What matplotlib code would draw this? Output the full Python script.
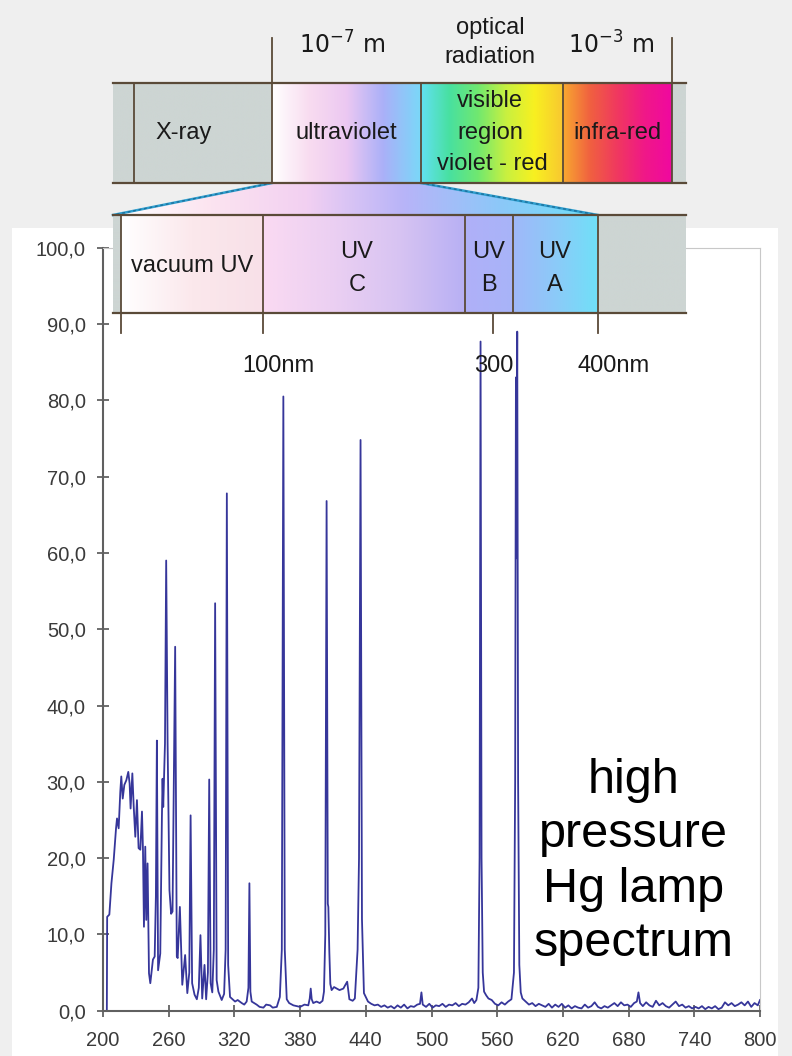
"""High pressure Hg lamp spectrum with the UV band diagram laid over it."""
import numpy as np
import matplotlib
matplotlib.use("Agg")
import matplotlib.pyplot as plt
from matplotlib.colors import LinearSegmentedColormap
from matplotlib.patches import Rectangle, Polygon

# spectrum: wavelength (nm) and relative intensity
wavelength = [
    203.5, 203.8, 205.8, 207.7, 209.8, 211.9, 212.8, 214.3, 215.8, 216.7,
    218.0, 219.5, 221.3, 223.1, 224.3, 225.2, 226.8, 228.0, 229.5, 231.0,
    232.5, 234.1, 235.6, 236.5, 237.4, 238.6, 239.5, 240.7, 242.0, 243.2,
    245.6, 247.2, 248.3, 249.2, 250.3, 252.3, 253.8, 254.4, 255.0, 256.6,
    257.7, 259.0, 260.7, 262.2, 263.5, 265.9, 267.4, 268.2, 270.2, 272.4,
    275.0, 277.0, 278.8, 280.0, 281.4, 283.6, 285.7, 287.5, 289.0, 290.6,
    292.7, 294.2, 295.8, 297.0, 298.3, 299.8, 301.2, 302.4, 303.8, 305.4,
    308.4, 310.6, 312.0, 313.1, 314.3, 316.0, 320.6, 323.0, 326.7, 329.0,
    331.2, 332.8, 333.7, 334.6, 335.8, 338.0, 340.3, 343.0, 346.5, 349.0,
    352.6, 355.0, 358.7, 361.5, 363.3, 364.7, 366.0, 367.8, 370.0, 373.9,
    377.0, 380.0, 384.0, 387.5, 388.8, 389.7, 390.6, 392.0, 395.0, 398.0,
    400.5, 401.8, 403.0, 404.2, 405.3, 405.8, 406.7, 407.6, 408.8, 411.0,
    413.4, 416.0, 419.5, 421.0, 423.0, 425.0, 428.0, 430.0, 432.5, 433.8,
    435.2, 436.5, 438.3, 442.0, 445.0, 448.0, 451.0, 454.0, 457.0, 460.0,
    463.0, 466.0, 469.0, 472.0, 475.0, 478.0, 481.0, 484.0, 487.0, 489.5,
    490.8, 492.0, 495.0, 498.0, 501.0, 504.0, 507.0, 510.0, 513.0, 516.0,
    519.0, 522.0, 525.0, 528.0, 531.0, 534.0, 537.0, 539.0, 541.0, 542.8,
    543.9, 544.8, 545.7, 546.8, 548.0, 550.0, 552.0, 555.0, 558.0, 561.0,
    564.0, 567.0, 570.0, 573.0, 575.3, 576.4, 577.1, 577.6, 578.3, 579.1,
    580.2, 581.5, 583.0, 586.0, 589.0, 592.0, 595.0, 598.0, 601.0, 604.0,
    607.0, 610.0, 613.0, 616.0, 619.0, 622.0, 625.0, 628.0, 631.0, 634.0,
    637.0, 640.0, 643.0, 646.0, 649.0, 652.0, 655.0, 658.0, 661.0, 664.0,
    667.0, 670.0, 673.0, 676.0, 679.0, 682.0, 685.0, 687.5, 689.0, 690.5,
    693.0, 696.0, 699.0, 702.0, 705.0, 708.0, 711.0, 714.0, 717.0, 720.0,
    723.0, 726.0, 729.0, 732.0, 735.0, 738.0, 741.0, 744.0, 747.0, 750.0,
    753.0, 756.0, 759.0, 762.0, 765.0, 768.0, 771.0, 774.0, 777.0, 780.0,
    783.0, 786.0, 789.0, 792.0, 795.0, 798.0, 800.0,
]
intensity = [
    0.0, 12.3, 12.6, 16.7, 19.8, 23.9, 25.2, 23.9, 28.7, 30.7,
    27.8, 29.6, 30.2, 31.3, 29.8, 26.5, 31.1, 26.9, 22.8, 27.6,
    21.3, 21.1, 26.1, 21.1, 11.0, 21.5, 11.9, 19.3, 4.9, 3.6,
    6.7, 7.1, 15.0, 35.4, 5.3, 7.5, 25.4, 30.4, 26.7, 35.0,
    59.0, 35.0, 15.8, 12.7, 13.0, 47.7, 7.1, 6.9, 13.6, 3.4,
    7.3, 2.3, 5.0, 25.6, 3.6, 2.1, 1.5, 3.0, 9.9, 1.6,
    6.0, 1.5, 5.0, 30.3, 3.6, 2.4, 8.0, 53.4, 4.0, 2.5,
    1.4, 2.2, 8.0, 67.8, 6.0, 1.8, 1.2, 1.4, 1.0, 0.8,
    1.2, 3.0, 16.7, 2.5, 1.2, 1.0, 0.8, 0.5, 0.4, 0.8,
    0.7, 0.4, 0.5, 1.8, 8.0, 80.5, 8.0, 1.5, 1.0, 0.7,
    0.6, 0.5, 0.8, 0.7, 1.6, 2.9, 1.5, 1.0, 1.2, 1.0,
    1.3, 2.5, 10.0, 66.8, 14.0, 13.6, 7.7, 3.5, 2.7, 3.1,
    2.9, 2.7, 2.9, 3.3, 3.8, 1.5, 1.3, 1.6, 8.0, 20.0,
    74.8, 12.0, 2.3, 1.2, 0.9, 0.7, 0.8, 0.5, 0.7, 0.4,
    0.6, 0.3, 0.7, 0.4, 0.8, 0.3, 0.6, 0.5, 0.8, 0.9,
    2.4, 0.8, 0.5, 0.9, 0.4, 0.7, 0.6, 0.9, 0.5, 0.8,
    0.7, 1.0, 0.6, 0.9, 0.8, 1.1, 1.6, 1.0, 1.4, 3.0,
    20.0, 87.7, 20.0, 5.0, 2.5, 2.0, 1.6, 1.4, 0.9, 0.7,
    1.1, 0.8, 1.2, 1.5, 5.0, 30.0, 83.0, 59.3, 89.0, 30.0,
    6.0, 2.4, 1.6, 1.2, 0.8, 1.0, 0.6, 0.9, 0.7, 0.5,
    0.9, 0.4, 0.8, 0.5, 0.9, 0.4, 0.7, 0.3, 0.6, 0.4,
    0.3, 0.8, 0.4, 0.6, 1.1, 0.5, 0.3, 0.6, 0.4, 0.7,
    1.0, 0.6, 1.1, 0.7, 0.8, 0.5, 1.0, 1.2, 2.4, 1.0,
    0.6, 1.1, 0.7, 0.5, 1.3, 0.7, 1.0, 0.6, 0.4, 0.8,
    1.2, 0.6, 0.8, 0.4, 0.6, 0.3, 0.5, 0.3, 0.6, 0.2,
    0.5, 0.3, 0.6, 0.2, 0.4, 1.1, 0.7, 1.0, 0.6, 0.8,
    1.1, 0.7, 1.2, 0.5, 1.0, 0.7, 1.4,
]

x_ticks = [200, 260, 320, 380, 440, 500, 560, 620, 680, 740, 800]
y_ticks = [0, 10, 20, 30, 40, 50, 60, 70, 80, 90, 100]
caption = ["high", "pressure", "Hg lamp", "spectrum"]

# band diagram, laid out in pixels of the 792x1056 picture
band_x = (113, 686)
top_band_y = (83, 183)
bottom_band_y = (215, 313)
top_segments = [
    (113, 272, ["#cdd5d3", "#cdd5d3"]),
    (272, 421, ["#ffffff", "#f8dcf0", "#ecc8f2", "#aab0f8", "#7ad8f8"]),
    (421, 563, ["#62e0f2", "#48e0a0", "#70e870", "#c8f040", "#f8f020", "#f8c830"]),
    (563, 672, ["#f8a830", "#f06040", "#f03860", "#f01888", "#f008a0"]),
    (672, 686, ["#cdd5d3", "#cdd5d3"]),
]
top_dividers = [134, 272, 421, 563, 672]
top_ticks = [272, 672]
bottom_segments = [
    (113, 121, ["#cdd5d3", "#cdd5d3"]),
    (121, 263, ["#ffffff", "#fbe8ec", "#f8e0e8"]),
    (263, 465, ["#fadaf2", "#ecd0f2", "#d8c4f2", "#b8b0f4"]),
    (465, 513, ["#b0b0f8", "#a8b4f8"]),
    (513, 598, ["#a0b8fa", "#8ccaf8", "#70e0f8"]),
    (598, 686, ["#cdd5d3", "#cdd5d3"]),
]
bottom_dividers = [121, 263, 465, 513, 598]
bottom_ticks = [121, 263, 493, 598]
trapezoid = [(272, 183), (421, 183), (598, 215), (113, 215)]
trapezoid_colors = ["#ffffff", "#fce4f0", "#f2d0f2", "#b8b4f8", "#8cc8f8", "#70e0f8"]

LINE = "#5a4a38"
FONT = ["Liberation Sans", "DejaVu Sans"]

fig = plt.figure(figsize=(7.92, 10.56), dpi=100)
fig.patch.set_facecolor("#efefef")

W, H = 792, 1056

# white panel behind the chart
bg = fig.add_axes([0, 0, 1, 1], zorder=0)
bg.set_xlim(0, W)
bg.set_ylim(H, 0)
bg.axis("off")
bg.add_patch(Rectangle((12, 228), 766, 840, facecolor="white", edgecolor="none"))

# spectrum
ax = fig.add_axes([103 / W, 1 - 1010.7 / H, 657 / W, 763 / H], zorder=1)
ax.set_facecolor("none")
ax.plot(wavelength, intensity, color="#36369a", linewidth=1.3)
ax.set_xlim(200, 800)
ax.set_ylim(0, 100)
ax.set_xticks(x_ticks)
ax.set_yticks(y_ticks)
ax.set_yticklabels([f"{v:.1f}".replace(".", ",") for v in y_ticks])
ax.tick_params(direction="inout", length=9, width=1.2, color="#555555",
               labelcolor="#3a3a3a", labelsize=14.5)
ax.tick_params(axis="y", pad=8)
ax.tick_params(axis="x", pad=10)
for lab in ax.get_xticklabels() + ax.get_yticklabels():
    lab.set_family(FONT)
for side in ("left", "bottom"):
    ax.spines[side].set_color("#606060")
    ax.spines[side].set_linewidth(1.5)
for side in ("top", "right"):
    ax.spines[side].set_color("#c8c8c8")
    ax.spines[side].set_linewidth(0.8)

for i, line in enumerate(caption):
    ax.text(0.808, 0.302 - i * 0.0715, line, transform=ax.transAxes,
            ha="center", va="center", fontsize=35, family=FONT, color="black")

# band diagram on top
ov = fig.add_axes([0, 0, 1, 1], zorder=2)
ov.set_xlim(0, W)
ov.set_ylim(H, 0)
ov.axis("off")
ov.patch.set_alpha(0)

grad = np.linspace(0, 1, 256)[None, :]


def gradient(x0, x1, y0, y1, colors, clip=None):
    cmap = LinearSegmentedColormap.from_list("g", colors)
    im = ov.imshow(grad, cmap=cmap, extent=(x0, x1, y1, y0), aspect="auto",
                   interpolation="bilinear", zorder=1)
    if clip is not None:
        im.set_clip_path(clip)


for x0, x1, cols in top_segments:
    gradient(x0, x1, *top_band_y, cols)
for x0, x1, cols in bottom_segments:
    gradient(x0, x1, *bottom_band_y, cols)

trap = Polygon(trapezoid, closed=True, facecolor="none", edgecolor="none")
ov.add_patch(trap)
gradient(113, 598, 183, 215, trapezoid_colors, clip=trap)
for (xa, ya), (xb, yb) in [(trapezoid[0], trapezoid[3]), (trapezoid[1], trapezoid[2])]:
    ov.plot([xa, xb], [ya, yb], color="#2f9fcf", lw=1.8, zorder=3)
    ov.plot([xa, xb], [ya, yb], color="#1d6f9a", lw=1.0, ls=(0, (2, 2)), zorder=3)

for y in top_band_y + bottom_band_y:
    ov.plot(band_x, [y, y], color=LINE, lw=1.6, zorder=4)
for x in top_dividers:
    ov.plot([x, x], top_band_y, color=LINE, lw=1.3, zorder=4)
for x in top_ticks:
    ov.plot([x, x], [38, top_band_y[0]], color=LINE, lw=1.3, zorder=4)
for x in bottom_dividers:
    ov.plot([x, x], bottom_band_y, color=LINE, lw=1.3, zorder=4)
for x in bottom_ticks:
    ov.plot([x, x], [bottom_band_y[1], 333], color=LINE, lw=1.3, zorder=4)

labels = [
    (184, 133, "X-ray"), (346, 133, "ultraviolet"),
    (490, 101, "visible"), (490, 133, "region"), (492, 164, "violet - red"),
    (617, 133, "infra-red"),
    (490, 28, "optical"), (490, 57, "radiation"),
    (192, 266, "vacuum UV"),
    (357, 252, "UV"), (357, 285, "C"),
    (489, 252, "UV"), (489, 285, "B"),
    (555, 252, "UV"), (555, 285, "A"),
    (278, 366, "100nm"), (494, 366, "300"), (614, 366, "400nm"),
]
for x, y, s in labels:
    ov.text(x, y, s, ha="center", va="center", fontsize=17, family=FONT,
            color="#1a1a1a", zorder=5)
ov.text(342, 45, r"$\mathregular{10^{-7}\ m}$", ha="center", va="center",
        fontsize=17, color="#1a1a1a", zorder=5)
ov.text(611, 45, r"$\mathregular{10^{-3}\ m}$", ha="center", va="center",
        fontsize=17, color="#1a1a1a", zorder=5)

fig.savefig("out.png", dpi=100)
